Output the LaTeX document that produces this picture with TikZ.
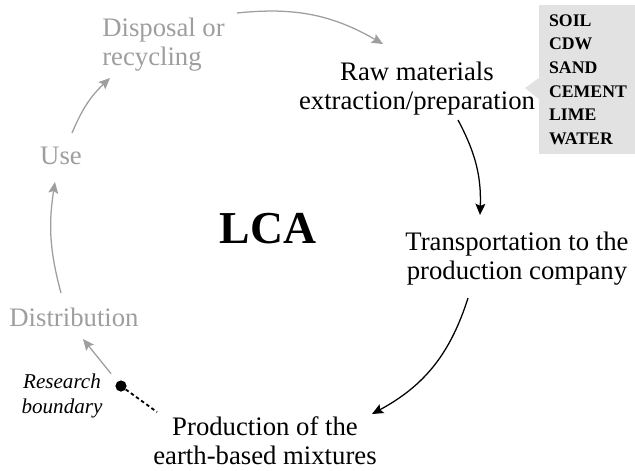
\documentclass[tikz,border=0pt]{standalone}
\usepackage{fontspec}
\setmainfont{Liberation Serif}
\usetikzlibrary{arrows.meta, positioning, calc}
\definecolor{pastgray}{RGB}{158,158,158}
\definecolor{boxgray}{RGB}{226,226,226}
\tikzset{
    stage/.style={align=center, inner sep=0pt, font=\fontsize{19}{20.6}\selectfont},
    paststage/.style={stage, text=pastgray},
    flow/.style={-{Stealth[length=8pt, width=7pt, inset=1.5pt]}, line width=0.9pt},
    pastflow/.style={flow, draw=pastgray},
    inputbox/.style={fill=boxgray, align=left, anchor=north west, inner xsep=7pt, inner ysep=6.5pt,
        text width=2.3cm, font=\fontsize{12.6}{16.8}\selectfont\bfseries},
    dotmark/.style={circle, fill=black, inner sep=0pt, minimum size=0.28cm},
}
\begin{document}
\begin{tikzpicture}[x=0.025cm, y=-0.025cm]
    \useasboundingbox (0,0) rectangle (635,470);
    % stages of the cycle
    \node[paststage, anchor=west, align=left] (disposal) at (102,45) {Disposal or\\recycling};
    \node[stage] (raw) at (417,89) {Raw materials\\extraction/preparation};
    \node[stage] (transport) at (517,259) {Transportation to the\\production company};
    \node[stage] (production) at (265,441) {Production of the\\earth-based mixtures};
    \node[paststage] (distribution) at (74,317) {Distribution};
    \node[paststage] (use) at (61,156) {Use};
    \node[inner sep=0pt, font=\fontsize{32.5}{33}\selectfont\bfseries] (lca) at (268,229) {LCA};
    % raw inputs
    \fill[boxgray] (540,77) -- (525,88) -- (540,100) -- cycle;
    \node[inputbox] (inputs) at (539,5) {SOIL\\CDW\\SAND\\CEMENT\\LIME\\WATER};
    % research boundary
    \node[dotmark] (rb) at (121,386) {};
    \node[inner sep=0pt, align=center, font=\fontsize{15}{18}\selectfont\itshape] (rblabel) at (62,396) {Research\\boundary};
    \coordinate (rbend) at (157,412);
    \draw[line width=1.3pt, dash pattern=on 2.5pt off 2pt] (rb) -- (rbend);
    % arrows
    \coordinate (a1) at (237,13);
    \coordinate (a2) at (383,44);
    \draw[pastflow] (a1) to[bend left=18] (a2);
    \coordinate (a3) at (458,120);
    \coordinate (a4) at (480,215);
    \draw[flow] (a3) to[bend left=15] (a4);
    \coordinate (a5) at (468,298);
    \coordinate (a6) at (372,414);
    \draw[flow] (a5) to[bend left=22] (a6);
    \coordinate (a7) at (83,339);
    \draw[pastflow, shorten <=7pt] (rb) -- (a7);
    \coordinate (a8) at (61,293);
    \coordinate (a9) at (55,182);
    \draw[pastflow] (a8) to[bend left=12] (a9);
    \coordinate (a10) at (72,133);
    \coordinate (a11) at (110,78);
    \draw[pastflow] (a10) to[bend left=12] (a11);
\end{tikzpicture}
\end{document}
